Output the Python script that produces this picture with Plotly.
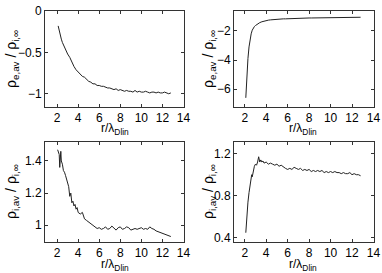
import plotly.graph_objects as go

# ---- data ----
r_e = [2.1, 2.2, 2.3, 2.4, 2.5, 2.6, 2.7, 2.8, 2.9, 3.0,
       3.2, 3.4, 3.6, 3.8, 4.0, 4.2, 4.4, 4.6, 4.8, 5.0,
       5.2, 5.4, 5.6, 5.8, 6.0, 6.2, 6.4, 6.6, 6.8, 7.0,
       7.2, 7.4, 7.6, 7.8, 8.0, 8.2, 8.4, 8.6, 8.8, 9.0,
       9.2, 9.4, 9.6, 9.8, 10.0, 10.2, 10.4, 10.6, 10.8, 11.0,
       11.2, 11.4, 11.6, 11.8, 12.0, 12.2, 12.4, 12.6, 12.8]
rho_e_a = [-0.18, -0.25, -0.30, -0.34, -0.38, -0.41, -0.44, -0.46, -0.50, -0.52,
           -0.56, -0.62, -0.67, -0.71, -0.74, -0.76, -0.79, -0.80, -0.83, -0.85,
           -0.86, -0.88, -0.88, -0.90, -0.90, -0.91, -0.91, -0.92, -0.93, -0.93,
           -0.94, -0.95, -0.94, -0.96, -0.95, -0.96, -0.97, -0.96, -0.97, -0.97,
           -0.98, -0.96, -0.98, -0.97, -0.98, -0.98, -0.97, -0.98, -0.99, -0.98,
           -0.98, -0.99, -0.98, -0.99, -0.99, -0.98, -0.99, -1.00, -0.99]
rho_e_b = [-6.6, -5.0, -3.9, -3.1, -2.55, -2.2, -1.95, -1.8, -1.7, -1.63,
           -1.52, -1.43, -1.37, -1.32, -1.28, -1.26, -1.24, -1.22, -1.21, -1.20,
           -1.19, -1.18, -1.17, -1.17, -1.16, -1.15, -1.15, -1.14, -1.14, -1.13,
           -1.13, -1.12, -1.12, -1.12, -1.11, -1.11, -1.11, -1.10, -1.10, -1.10,
           -1.10, -1.09, -1.09, -1.09, -1.09, -1.09, -1.08, -1.08, -1.08, -1.08,
           -1.08, -1.08, -1.07, -1.07, -1.07, -1.07, -1.07, -1.07, -1.06]

r_i_a = [2.05, 2.1, 2.15, 2.2, 2.25, 2.3, 2.35, 2.4, 2.5, 2.6, 2.7, 2.8, 2.9, 3.0,
         3.1, 3.2, 3.3, 3.4, 3.5, 3.6, 3.7, 3.8, 3.9, 4.0, 4.2, 4.4, 4.6, 4.8, 5.0,
         5.2, 5.4, 5.6, 5.8, 6.0, 6.2, 6.4, 6.6, 6.8, 7.0, 7.2, 7.4, 7.6, 7.8, 8.0,
         8.2, 8.4, 8.6, 8.8, 9.0, 9.2, 9.4, 9.6, 9.8, 10.0, 10.2, 10.4, 10.6, 10.8,
         11.0, 11.2, 11.4, 11.6, 11.8, 12.0, 12.2, 12.4, 12.6, 12.8]
rho_i_a = [1.47, 1.46, 1.45, 1.44, 1.36, 1.45, 1.46, 1.40, 1.38, 1.34, 1.33, 1.31, 1.29, 1.27,
           1.24, 1.18, 1.20, 1.14, 1.15, 1.12, 1.13, 1.10, 1.11, 1.08, 1.07, 1.08, 1.04, 1.03, 1.02,
           1.01, 1.00, 0.99, 0.98, 0.985, 0.975, 0.98, 0.99, 0.975, 0.98, 0.995, 0.98, 0.97, 0.985, 0.99,
           0.975, 0.98, 0.99, 0.985, 0.97, 0.975, 0.98, 0.975, 0.98, 0.985, 0.975, 0.98, 0.975, 0.99,
           0.98, 0.975, 0.965, 0.96, 0.955, 0.95, 0.945, 0.94, 0.935, 0.93]

r_i_b = [2.1, 2.2, 2.3, 2.4, 2.5, 2.6, 2.65, 2.7, 2.8, 2.9, 3.0, 3.1, 3.2, 3.3, 3.4, 3.5,
         3.6, 3.7, 3.8, 4.0, 4.2, 4.4, 4.6, 4.8, 5.0, 5.2, 5.4, 5.6, 5.8, 6.0, 6.2, 6.4,
         6.6, 6.8, 7.0, 7.2, 7.4, 7.6, 7.8, 8.0, 8.2, 8.4, 8.6, 8.8, 9.0, 9.2, 9.4, 9.6,
         9.8, 10.0, 10.2, 10.4, 10.6, 10.8, 11.0, 11.2, 11.4, 11.6, 11.8, 12.0, 12.2, 12.4,
         12.6, 12.8]
rho_i_b = [0.45, 0.62, 0.74, 0.83, 0.90, 0.97, 1.00, 0.98, 1.04, 1.08, 1.10, 1.09, 1.12, 1.17, 1.12, 1.14,
           1.12, 1.13, 1.11, 1.12, 1.10, 1.11, 1.10, 1.09, 1.10, 1.08, 1.09, 1.07, 1.06, 1.05, 1.06, 1.05,
           1.07, 1.06, 1.05, 1.06, 1.04, 1.05, 1.04, 1.05, 1.03, 1.04, 1.03, 1.04, 1.03, 1.04, 1.02, 1.03,
           1.02, 1.03, 1.02, 1.03, 1.02, 1.02, 1.01, 1.02, 1.01, 1.01, 1.02, 1.00, 1.01, 1.00,
           1.00, 0.99]

x_ticks = [2, 4, 6, 8, 10, 12, 14]
y_ticks_a = [0, -0.5, -1]
y_text_a = ["0", "\u22120.5", "\u22121"]
y_ticks_b = [-2, -4, -6]
y_text_b = ["\u22122", "\u22124", "\u22126"]
y_ticks_c = [1, 1.2, 1.4]
y_text_c = ["1", "1.2", "1.4"]
y_ticks_d = [0.4, 0.8, 1.2]
y_text_d = ["0.4", "0.8", "1.2"]

ylab_e = "ρ<sub>e,av</sub> / ρ<sub>i,∞</sub>"
ylab_i = "ρ<sub>i,av</sub> / ρ<sub>i,∞</sub>"
xlab = "r/λ<sub>Dlin</sub>"

W, H = 382, 273
font = dict(family="Liberation Sans, Arial, sans-serif", size=12, color="black")
line = dict(color="#222", width=1)

fig = go.Figure()
fig.add_trace(go.Scatter(x=r_e, y=rho_e_a, mode="lines", line=line, xaxis="x", yaxis="y"))
fig.add_trace(go.Scatter(x=r_e, y=rho_e_b, mode="lines", line=line, xaxis="x2", yaxis="y2"))
fig.add_trace(go.Scatter(x=r_i_a, y=rho_i_a, mode="lines", line=line, xaxis="x3", yaxis="y3"))
fig.add_trace(go.Scatter(x=r_i_b, y=rho_i_b, mode="lines", line=line, xaxis="x4", yaxis="y4"))

def px_dom(a, b):
    return [a / W, b / W]

def py_dom(top, bottom):
    return [(H - bottom) / H, (H - top) / H]

ax_common = dict(showline=True, linecolor="#333", linewidth=1, mirror="allticks",
                 ticks="inside", ticklen=3, tickcolor="#333", showgrid=False,
                 zeroline=False, tickfont=font, automargin=False)

def xa(dom, anchor, rng):
    return dict(ax_common, domain=dom, anchor=anchor, range=rng,
                tickmode="array", tickvals=x_ticks)

def ya(dom, anchor, rng, tv, tt):
    return dict(ax_common, domain=dom, anchor=anchor, range=rng,
                tickmode="array", tickvals=tv, ticktext=tt)

top = py_dom(11, 107)
bot = py_dom(142, 242)
left = px_dom(45, 184)
right = px_dom(234, 374)

annos = []
for xc, yt, txt in [(115, 119, xlab), (303, 119, xlab), (115, 255, xlab), (303, 255, xlab)]:
    annos.append(dict(x=xc / W, y=1 - yt / H, xref="paper", yref="paper", text=txt,
                      showarrow=False, font=font, xanchor="center", yanchor="top"))
for xc, yc, txt in [(12, 59, ylab_e), (209, 59, ylab_e), (12, 192, ylab_i), (209, 192, ylab_i)]:
    annos.append(dict(x=xc / W, y=1 - yc / H, xref="paper", yref="paper", text=txt,
                      showarrow=False, font=dict(font, size=14), textangle=-90,
                      xanchor="center", yanchor="middle"))

fig.update_layout(
    width=W, height=H,
    margin=dict(l=0, r=0, t=0, b=0),
    paper_bgcolor="white", plot_bgcolor="white",
    showlegend=False, font=font,
    xaxis=xa(left, "y", [0.85, 14.05]),
    yaxis=ya(top, "x", [-1.16, 0], y_ticks_a, y_text_a),
    xaxis2=xa(right, "y2", [1.0, 14.05]),
    yaxis2=ya(top, "x2", [-7.23, -0.63], y_ticks_b, y_text_b),
    xaxis3=xa(left, "y3", [0.85, 14.05]),
    yaxis3=ya(bot, "x3", [0.896, 1.518], y_ticks_c, y_text_c),
    xaxis4=xa(right, "y4", [1.0, 14.05]),
    yaxis4=ya(bot, "x4", [0.362, 1.31], y_ticks_d, y_text_d),
    annotations=annos,
)

fig.write_html("out.html", config={"displayModeBar": False},
               post_script="document.body.style.margin='0';document.body.style.padding='0';document.body.style.overflow='hidden';")
